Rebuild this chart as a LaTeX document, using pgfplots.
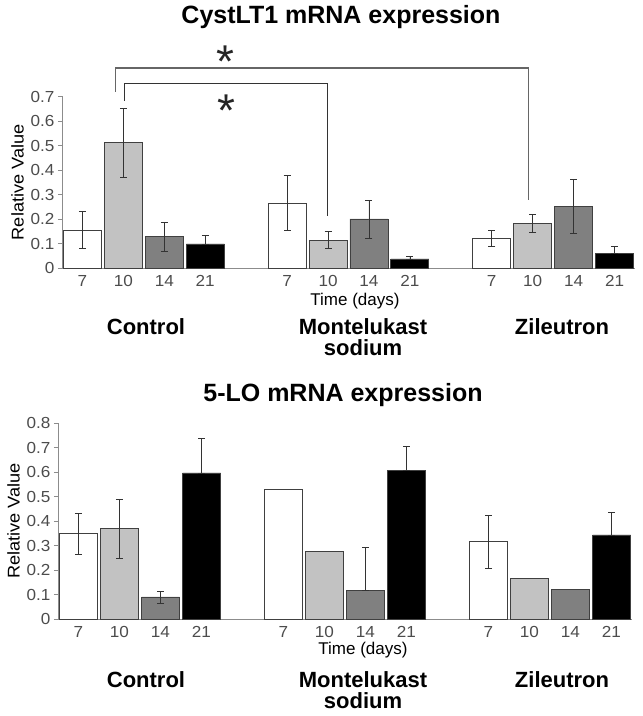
\documentclass[border=0pt]{standalone}
\usepackage{pgfplots}
\pgfplotsset{compat=1.18}
\usepackage{pgfplotstable}
\usepackage{fontspec}
\setmainfont{Liberation Sans}
\newfontfamily\widesans{Liberation Sans}[FakeStretch=1.07]

% CystLT1, one table per day; x = slot (group*5 + day index)
\pgfplotstableread{
x  y     ep    em
0  0.155 0.075 0.075
5  0.265 0.112 0.112
10 0.121 0.032 0.032
}\cystA
\pgfplotstableread{
x  y     ep    em
1  0.511 0.141 0.141
6  0.114 0.034 0.034
11 0.181 0.037 0.037
}\cystB
\pgfplotstableread{
x  y     ep    em
2  0.128 0.058 0.058
7  0.200 0.077 0.077
12 0.251 0.111 0.111
}\cystC
\pgfplotstableread{
x  y     ep    em
3  0.098 0.035 0
8  0.037 0.009 0
13 0.061 0.026 0
}\cystD

% 5-LO (bars with error bars, then bars without)
\pgfplotstableread{
x  y     ep    em
0  0.349 0.084 0.084
10 0.315 0.107 0.107
}\loA
\pgfplotstableread{
x  y
5  0.531
}\loAn
\pgfplotstableread{
x  y     ep    em
1  0.368 0.122 0.122
}\loB
\pgfplotstableread{
x  y
6  0.274
11 0.167
}\loBn
\pgfplotstableread{
x  y     ep    em
2  0.090 0.024 0.024
7  0.118 0.176 0
}\loC
\pgfplotstableread{
x  y
12 0.119
}\loCn
\pgfplotstableread{
x  y     ep    em
3  0.596 0.142 0
8  0.606 0.100 0
13 0.343 0.091 0
}\loD

\definecolor{lgray}{gray}{0.76}
\definecolor{mgray}{gray}{0.50}
\definecolor{axgray}{gray}{0.55}

% the asterisk glyph sits high in its box: anchor on the baseline and drop it
\tikzset{sigstar/.style={anchor=base, yshift=-26pt, inner sep=0pt,
  font=\fontsize{46}{46}\selectfont, text=black!85}}

\pgfplotsset{
  panel/.style={
    scale only axis,
    xmin=-0.5, xmax=13.5, ymin=0,
    axis x line*=bottom, axis y line*=left,
    axis line style={draw=axgray, line width=0.9pt},
    xtick={0,1,2,3,5,6,7,8,10,11,12,13},
    xticklabels={7,10,14,21,7,10,14,21,7,10,14,21},
    major x tick style={draw=none},
    ytick distance=0.1,
    tick align=outside, major tick length=4pt,
    y tick style={draw=axgray, line width=0.7pt},
    tick label style={font=\fontsize{16}{16}\widesans, text=black!70},
    yticklabel style={/pgf/number format/fixed, /pgf/number format/precision=1},
    /pgf/number format/assume math mode=true,
    ylabel={Relative Value},
    ylabel style={font=\fontsize{17}{17}\widesans},
    ybar, bar width=38pt, bar shift=0pt,
    clip=false,
  },
  plain/.style={draw=black!75, line width=0.8pt, fill=#1},
  mybar/.style={plain=#1,
    error bars/.cd, y dir=both, y explicit,
    error bar style={line width=0.6pt, draw=black!80},
    error mark options={rotate=90, mark size=3.5pt, line width=0.6pt, draw=black!80}},
}

\begin{document}
\begin{tikzpicture}
\useasboundingbox (0,0) rectangle (643pt,716pt);

% top panel
\begin{axis}[panel, at={(62pt,448pt)}, anchor=south west,
  width=573pt, height=171.5pt, ymax=0.7]
\addplot[mybar=white] table[x=x, y=y, y error plus=ep, y error minus=em] {\cystA};
\addplot[mybar=lgray] table[x=x, y=y, y error plus=ep, y error minus=em] {\cystB};
\addplot[mybar=mgray] table[x=x, y=y, y error plus=ep, y error minus=em] {\cystC};
\addplot[mybar=black] table[x=x, y=y, y error plus=ep, y error minus=em] {\cystD};
\draw[line width=1.4pt, black!60] (axis cs:0.8,0.72) |- (axis cs:10.9,0.817) -- (axis cs:10.9,0.279);
\draw[line width=1.4pt, black!80] (axis cs:1.02,0.683) |- (axis cs:5.98,0.752) -- (axis cs:5.98,0.213);
\node[sigstar] at (axis cs:3.49,0.885) {*};
\node[sigstar] at (axis cs:3.51,0.685) {*};
\end{axis}

% bottom panel
\begin{axis}[panel, at={(58pt,97pt)}, anchor=south west,
  width=574pt, height=196pt, ymax=0.8]
\addplot[mybar=white] table[x=x, y=y, y error plus=ep, y error minus=em] {\loA};
\addplot[plain=white] table[x=x, y=y] {\loAn};
\addplot[mybar=lgray] table[x=x, y=y, y error plus=ep, y error minus=em] {\loB};
\addplot[plain=lgray] table[x=x, y=y] {\loBn};
\addplot[mybar=mgray] table[x=x, y=y, y error plus=ep, y error minus=em] {\loC};
\addplot[plain=mgray] table[x=x, y=y] {\loCn};
\addplot[mybar=black] table[x=x, y=y, y error plus=ep, y error minus=em] {\loD};
\end{axis}

% titles and group labels
\node[anchor=base, font=\fontsize{25}{25}\selectfont\bfseries] at (341pt,692pt) {CystLT1 mRNA expression};
\node[anchor=base, font=\fontsize{25}{25}\selectfont\bfseries] at (343pt,314pt) {5-LO mRNA expression};

\begin{scope}[every node/.style={anchor=base, font=\fontsize{22}{22}\selectfont\bfseries}]
\node at (146pt,381pt) {Control};
\node at (363pt,381pt) {Montelukast};
\node at (363pt,360pt) {sodium};
\node at (562pt,381pt) {Zileutron};
\node at (146pt,28pt) {Control};
\node at (363pt,28pt) {Montelukast};
\node at (363pt,8pt) {sodium};
\node at (562pt,28pt) {Zileutron};
\end{scope}
\node[anchor=base, font=\fontsize{17}{17}\selectfont] at (355pt,410pt) {Time (days)};
\node[anchor=base, font=\fontsize{17}{17}\selectfont] at (363pt,61pt) {Time (days)};
\end{tikzpicture}
\end{document}
